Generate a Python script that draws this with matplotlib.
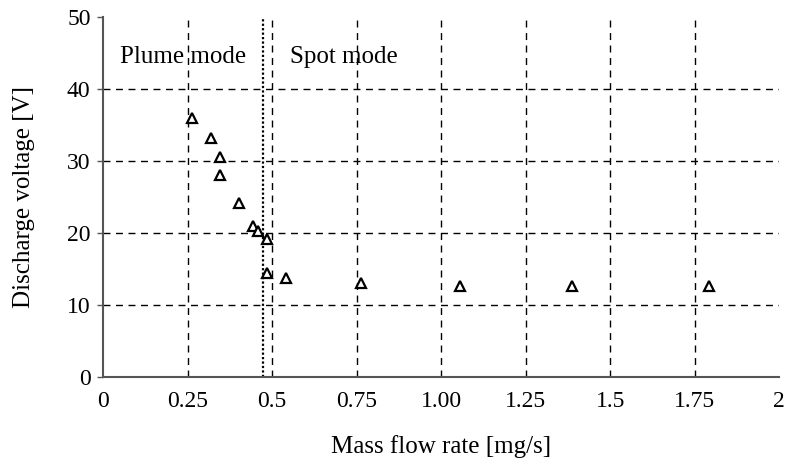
import matplotlib

matplotlib.use("Agg")
import matplotlib.pyplot as plt

# discharge voltage vs. mass flow rate (plume/spot transition)
flow_rate = [0.264, 0.319, 0.346, 0.346, 0.402, 0.444, 0.457, 0.485, 0.485,
             0.542, 0.762, 1.056, 1.388, 1.794]
voltage = [35.9, 33.2, 30.6, 28.0, 24.2, 21.0, 20.3, 19.1, 14.5,
           13.8, 13.1, 12.6, 12.6, 12.6]
transition = 0.473

x_ticks = [0, 0.25, 0.5, 0.75, 1.0, 1.25, 1.5, 1.75, 2]
x_labels = ["0", "0.25", "0.5", "0.75", "1.00", "1.25", "1.5", "1.75", "2"]
y_ticks = [0, 10, 20, 30, 40, 50]

plt.rcParams["font.family"] = ["Liberation Serif", "DejaVu Serif"]

fig = plt.figure(figsize=(7.87, 4.58), dpi=100)
ax = fig.add_axes([0.131, 0.177, 0.859, 0.786])

for xv in x_ticks[1:-1]:
    ax.axvline(xv, color="black", lw=1.0, ls=(0, (5, 4)), zorder=1)
for yv in y_ticks[1:-1]:
    ax.axhline(yv, color="black", lw=1.0, ls=(0, (5, 4)), zorder=1)
ax.axvline(transition, color="black", lw=1.6, ls=(0, (1, 1)), zorder=2)

ax.plot(flow_rate, voltage, ls="none", marker="^", ms=7.5, mfc="white",
        mec="black", mew=1.6, zorder=3)

ax.text(0.05, 44.4, "Plume mode", fontsize=18, va="center", ha="left")
ax.text(0.552, 44.4, "Spot mode", fontsize=18, va="center", ha="left")

ax.set_xlim(0, 2)
ax.set_ylim(0, 50)
ax.set_xticks(x_ticks)
ax.set_xticklabels(x_labels)
ax.set_yticks(y_ticks)
ax.tick_params(axis="both", labelsize=17, colors="black")
ax.tick_params(axis="x", length=0, pad=10)
ax.tick_params(axis="y", length=4, width=1, color="#555555", pad=5)

for side in ("top", "right"):
    ax.spines[side].set_visible(False)
for side in ("left", "bottom"):
    ax.spines[side].set_color("#555555")
    ax.spines[side].set_linewidth(1.5)

ax.set_xlabel("Mass flow rate [mg/s]", fontsize=18, labelpad=17)
ax.set_ylabel("Discharge voltage [V]", fontsize=18, labelpad=23)

fig.savefig("out.png", dpi=100)
